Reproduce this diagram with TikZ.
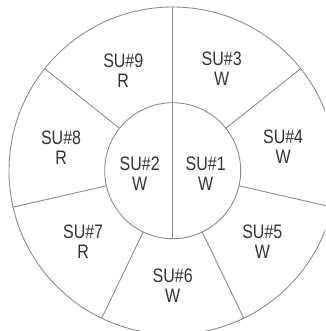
\documentclass[tikz,border=0pt]{standalone}
\usepackage{fontspec}
\setmainfont[FakeStretch=0.82]{Liberation Sans}
\definecolor{linegray}{HTML}{8C8C8C}
\definecolor{textgray}{HTML}{333333}
\tikzset{
  part/.style={draw=linegray, line width=0.9pt},
  lbl/.style={text=textgray, align=center, font=\fontsize{19.5}{20}\selectfont, inner sep=0pt}
}
\begin{document}
\begin{tikzpicture}[x=1pt,y=1pt]
\useasboundingbox (-172.7,-160.3) rectangle (152.3,170.7);
\clip (-172.7,-160.3) rectangle (152.3,170.7);
\fill[white] (-172.7,-160.3) rectangle (152.3,170.7);
\def\Ro{163.7}
\def\Ri{68}
\draw[part] (0,0) circle[radius=\Ro];
\draw[part] (0,0) circle[radius=\Ri];
\draw[part] (0,\Ri) -- (0,-\Ri);
\foreach \a in {90,38.57,-12.86,-64.29,-115.71,-167.14,141.43}
  \draw[part] (\a:\Ri) -- (\a:\Ro);
\node[lbl] (su1) at (33,-2.5) {SU\#1\\W};
\node[lbl] (su2) at (-33,-2.5) {SU\#2\\W};
\node[lbl] (su3) at (64.3:113) {SU\#3\\W};
\node[lbl] (su4) at (12.3:113) {SU\#4\\W};
\node[lbl] (su5) at (-38.5:114.5) {SU\#5\\W};
\node[lbl] (su6) at (-90:114.5) {SU\#6\\W};
\node[lbl] (su7) at (-141.5:114.5) {SU\#7\\R};
\node[lbl] (su8) at (168.3:114) {SU\#8\\R};
\node[lbl] (su9) at (116.2:112) {SU\#9\\R};
\end{tikzpicture}
\end{document}
